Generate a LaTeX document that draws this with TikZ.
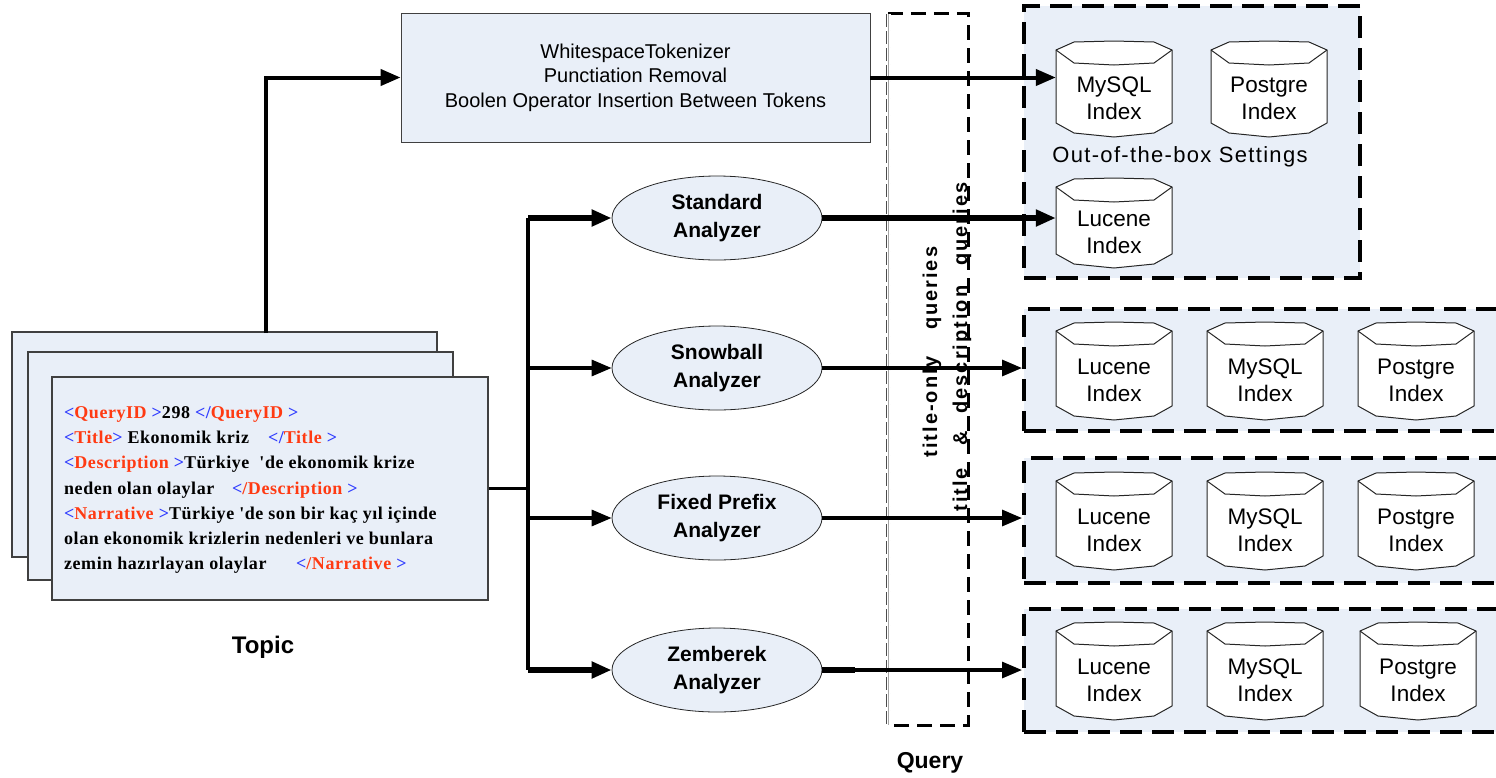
\documentclass[tikz,border=0pt]{standalone}
\usepackage{fontspec}
\setmainfont{Liberation Sans}
\newfontfamily\tmsfont{Liberation Serif}
\usetikzlibrary{arrows.meta,shapes.geometric}
\definecolor{pale}{HTML}{E9EFF8}
\definecolor{tagblue}{HTML}{2F3CFF}
\definecolor{tagred}{HTML}{FF3A12}
\newcommand\tagB[1]{\textcolor{tagblue}{#1}}
\newcommand\tagR[1]{\textcolor{tagred}{#1}}
\tikzset{
  sheet/.style={draw=black!75, line width=1.2pt, fill=pale, inner sep=0pt},
  procbox/.style={draw=black!75, line width=0.8pt, fill=pale, align=center, inner sep=0pt,
    font=\fontsize{20}{24.5}\selectfont},
  analyzer/.style={ellipse, draw=black!85, line width=0.8pt, fill=pale, inner sep=0pt,
    minimum width=210pt, minimum height=84pt, align=center,
    font=\bfseries\fontsize{21}{28}\selectfont},
  idxbox/.style={draw=black, line width=4pt, dash pattern=on 22pt off 10pt, fill=pale, inner sep=0pt},
  cylbody/.style={draw=black!85, line width=1pt, fill=white, line join=round},
  cyltop/.style={draw=black!85, line width=1pt, line join=round},
  cyltext/.style={align=center, inner sep=0pt, minimum width=116pt,
    font=\fontsize{22.5}{27}\selectfont},
  arr/.style={-{Triangle[length=20pt,width=16pt]}},
  heavy/.style={line width=6pt},
  medium/.style={line width=4pt},
  light/.style={line width=3.2pt},
  biglabel/.style={font=\bfseries\fontsize{23}{26}\selectfont, inner sep=0pt},
  rotlabel/.style={rotate=90, inner sep=0pt, font=\bfseries\fontsize{20}{24}\selectfont\addfontfeature{LetterSpace=10}},
  qdash/.style={draw=black, line width=3pt, dash pattern=on 15pt off 8pt},
}
\newcommand\dbcyl[6]{%
  \draw[cylbody] (#2,#3+9) -- (#2+18,#3+1) -- (#2+58,#3) -- (#2+98,#3+1) -- (#2+116,#3+9)
    -- (#2+116,#3+#4-14) -- (#2+98,#3+#4-4) -- (#2+58,#3+#4) -- (#2+18,#3+#4-4) -- (#2,#3+#4-14) -- cycle;
  \draw[cyltop] (#2,#3+9) -- (#2+18,#3+22) -- (#2+58,#3+24) -- (#2+98,#3+22) -- (#2+116,#3+9);
  \node[cyltext] (#1) at (#2+58,#3+#4/2+9) {#5\\#6};
}
\begin{document}
\begin{tikzpicture}[x=1pt,y=-1pt]
\useasboundingbox (0,0) rectangle (1496,777);
\begin{scope}
\clip (0,0) rectangle (1496,777);

% Query column
\node[minimum width=80pt, minimum height=711pt, inner sep=0pt] (qcol) at (928,369.5) {};
\draw[qdash] (qcol.north west) -- (qcol.north east) -- (qcol.south east) -- (qcol.south west);
\draw[black!70, line width=0.6pt, double=white, double distance=4pt, dash pattern=on 13pt off 4pt]
  ([xshift=1pt]qcol.north west) -- ([xshift=1pt]qcol.south west);
\draw[black!35, line width=0.8pt] ([xshift=1pt]qcol.north west) -- ([xshift=1pt]qcol.south west);
\node[rotlabel] (tonly) at (932,352) {title-only\hspace{26pt}queries};
\node[rotlabel] (tdesc) at (962,347) {title\hspace{22pt}\&\hspace{18pt}description\hspace{20pt}queries};
\node[biglabel] (qlabel) at (930,763) {Query};

% topic sheets
\node[sheet, minimum width=425pt, minimum height=225pt] (sheetA) at (224.5,444.5) {};
\node[sheet, minimum width=425pt, minimum height=228pt] (sheetB) at (240.5,466) {};
\node[sheet, minimum width=436pt, minimum height=223pt] (sheetC) at (270,488.5) {};
\node[anchor=north west, inner sep=0pt, align=left,
      font=\tmsfont\bfseries\fontsize{18}{25.3}\selectfont\addfontfeature{LetterSpace=3}] (topictext) at (64,406) {%
\tagB{<}\tagR{QueryID}\tagB{\ >}298 \tagB{</}\tagR{QueryID}\tagB{\ >}\\
\makebox[204pt][l]{\tagB{<}\tagR{Title}\tagB{>} Ekonomik kriz}\tagB{</}\tagR{Title}\tagB{\ >}\\
\tagB{<}\tagR{Description}\tagB{\ >}Türkiye \ 'de ekonomik krize\\
\makebox[168pt][l]{neden olan olaylar}\tagB{<}\tagR{/Description}\tagB{\ >}\\
\tagB{<}\tagR{Narrative}\tagB{\ >}Türkiye 'de son bir kaç yıl içinde\\
olan ekonomik krizlerin nedenleri ve bunlara\\
\makebox[232pt][l]{zemin hazırlayan olaylar}\tagB{<}\tagR{/Narrative}\tagB{\ >}};
\node[biglabel, font=\bfseries\fontsize{24}{26}\selectfont] (topiclabel) at (263,647) {Topic};

% top processing box
\node[procbox, minimum width=469pt, minimum height=129pt] (topbox) at (635.5,77.5)
  {WhitespaceTokenizer\\Punctiation Removal\\Boolen Operator Insertion Between Tokens};

% analyzers
\node[analyzer] (std) at (717,218) {Standard\\Analyzer};
\node[analyzer] (snow) at (717,368) {Snowball\\Analyzer};
\node[analyzer] (fixp) at (717,518) {Fixed Prefix\\Analyzer};
\node[analyzer] (zem) at (717,670) {Zemberek\\Analyzer};

% index boxes
\node[idxbox, minimum width=336pt, minimum height=272pt] (box1) at (1192,142) {};
\node[idxbox, minimum width=496pt, minimum height=122pt] (box2) at (1272,370) {};
\node[idxbox, minimum width=496pt, minimum height=125pt] (box3) at (1272,520.5) {};
\node[idxbox, minimum width=496pt, minimum height=123pt] (box4) at (1272,670.5) {};

\dbcyl{mysqlA}{1056}{41}{96}{MySQL}{Index}
\dbcyl{pgA}{1211}{41}{96}{Postgre}{Index}
\dbcyl{lucA}{1056}{178}{90}{Lucene}{Index}
\node[inner sep=0pt, font=\fontsize{22}{26}\selectfont\addfontfeature{LetterSpace=6}] (oob) at (1180,157) {Out-of-the-box Settings};

\dbcyl{lucB}{1056}{322}{98}{Lucene}{Index}
\dbcyl{mysqlB}{1207}{322}{98}{MySQL}{Index}
\dbcyl{pgB}{1358}{322}{98}{Postgre}{Index}

\dbcyl{lucC}{1056}{472}{98}{Lucene}{Index}
\dbcyl{mysqlC}{1207}{472}{98}{MySQL}{Index}
\dbcyl{pgC}{1358}{472}{98}{Postgre}{Index}

\dbcyl{lucD}{1056}{622}{98}{Lucene}{Index}
\dbcyl{mysqlD}{1207}{622}{98}{MySQL}{Index}
\dbcyl{pgD}{1360}{622}{98}{Postgre}{Index}

% connectors
\coordinate (tup) at (266,333);
\draw[arr, medium] (tup) |- (topbox.west);
\coordinate (bus) at (528,488.5);
\draw[light] (sheetC.east) -- (bus);
\draw[medium] (bus |- std.west) -- (bus |- zem.west);
\draw[arr, heavy] (bus |- std.west) -- (std.west);
\draw[arr, light] (bus |- snow.west) -- (snow.west);
\draw[arr, light] (bus |- fixp.west) -- (fixp.west);
\draw[arr, heavy] (bus |- zem.west) -- (zem.west);

\draw[arr, medium] (topbox.east) -- (topbox.east -| mysqlA.west);
\draw[arr, heavy] (std.east) -- (std.east -| lucA.west);
\draw[arr, light] (snow.east) -- (snow.east -| box2.west);
\draw[arr, light] (fixp.east) -- (fixp.east -| box3.west);
\coordinate (zemstub) at (855,670);
\draw[heavy] (zem.east) -- (zemstub);
\draw[arr, light] (zem.east) -- (zem.east -| box4.west);
\end{scope}
\end{tikzpicture}
\end{document}
